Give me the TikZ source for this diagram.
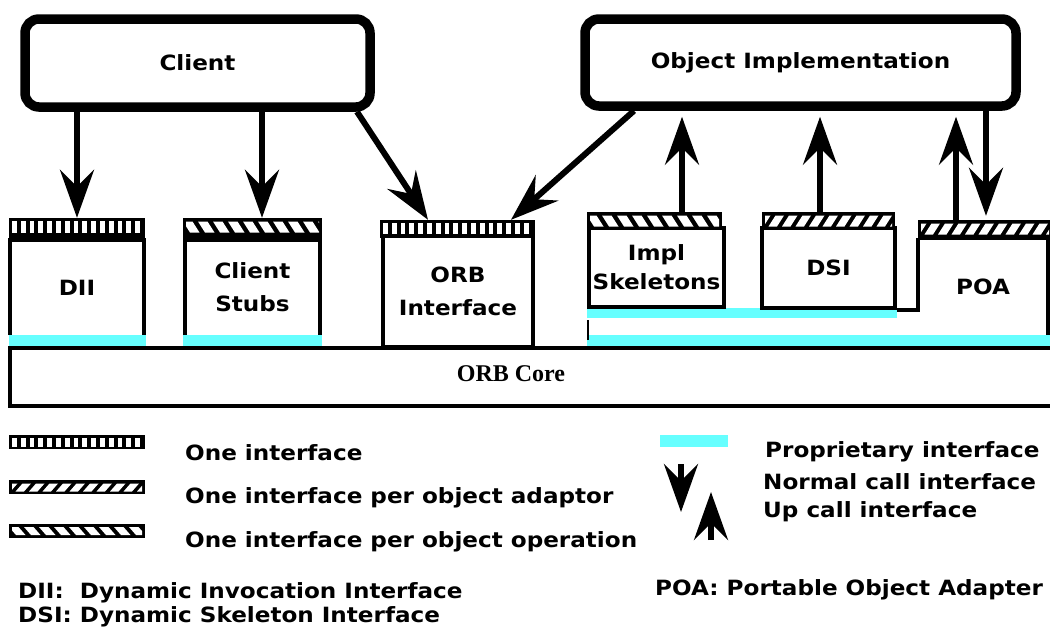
\documentclass[tikz,border=0pt]{standalone}
\usepackage{fontspec}
\setmainfont{Liberation Serif}
\newfontfamily\lab[FakeStretch=1.1]{DejaVu Sans}
\usetikzlibrary{arrows.meta,calc}
\definecolor{prop}{RGB}{102,255,255}
\def\slotH{10pt}
\newcommand\vpat[2]{%
  \clip ($(path picture bounding box.north west)+(3pt,-3.5pt)$) rectangle ($(path picture bounding box.north east)+(-3pt,-3.5pt-\slotH)$);
  \foreach \i in {0,...,20}{\fill[white] ($(path picture bounding box.north west)+(3pt+\i*#1pt,0pt)$) rectangle ++(#2pt,-40pt);}}
\newcommand\dpat[3]{%
  \clip ($(path picture bounding box.north west)+(3pt,-3.5pt)$) rectangle ($(path picture bounding box.north east)+(-3pt,-3.5pt-\slotH)$);
  \foreach \i in {-1,...,14}{\fill[white] ($(path picture bounding box.north west)+(\i*#1pt,-3.5pt)$) -- ++(#2pt,0pt) -- ++(#3pt,-\slotH) -- ++(-#2pt,0pt) -- cycle;}}
\tikzset{
  slot/.code={\def\slotH{#1}},
  lab/.style={font=\lab\bfseries\fontsize{21}{33}\selectfont},
  bigbox/.style={lab, draw, line width=9.5pt, rounded corners=14pt, inner sep=0pt},
  body/.style={lab, inner sep=0pt, align=center},
  bodyline/.style={line width=3.5pt},
  boxed/.style={body, draw, line width=3.5pt},
  vbar/.style={fill=black, inner sep=0pt, path picture={\vpat{8.8}{4.8}}},
  abar/.style={fill=black, inner sep=0pt, path picture={\dpat{13.5}{8.5}{-7}}},
  obar/.style={fill=black, inner sep=0pt, path picture={\dpat{15}{9.5}{7}}},
  callarr/.style={line width=6pt, -{Stealth[length=48pt,width=34pt,inset=17pt]}},
  legtext/.style={lab, anchor=west, inner sep=0pt},
  coretext/.style={font=\rmfamily\bfseries\fontsize{24}{28}\selectfont, inner sep=0pt}
}
\begin{document}
\begin{tikzpicture}[x=1pt,y=-1pt]
\useasboundingbox (0,0) rectangle (1050,643);

% proprietary interface strips
\fill[prop] (8.5,335) rectangle (145.5,347);
\fill[prop] (183,335) rectangle (322,347);
\fill[prop] (587,308) rectangle (897,318);
\fill[prop] (587,335) rectangle (1055,347);
\draw[line width=2pt] (588,320) -- (588,340);

% ORB core
\draw[line width=3.5pt] (10,348) rectangle (1070,406);
\node[coretext] (core) at (511,374) {ORB Core};

% components
\node[body, minimum width=134pt, minimum height=95pt] (dii) at (77,287.5) {DII};
\draw[bodyline] (dii.south west) -- (dii.north west) -- (dii.north east) -- (dii.south east);
\node[body, minimum width=135pt, minimum height=95pt] (stubs) at (252.5,287.5) {Client\\Stubs};
\draw[bodyline] (stubs.south west) -- (stubs.north west) -- (stubs.north east) -- (stubs.south east);
\node[boxed, minimum width=150pt, minimum height=111pt] (orbi) at (458,291.5) {ORB\\Interface};
\node[boxed, minimum width=135pt, minimum height=79pt, font=\lab\bfseries\fontsize{21}{29}\selectfont] (impl) at (656.5,267.5) {Impl\\Skeletons};
\node[boxed, minimum width=133pt, minimum height=80pt] (dsi) at (828.5,268) {DSI};
\node[body, minimum width=130pt, minimum height=97pt] (poa) at (983,286.5) {POA};
\draw[bodyline] (dsi.south east) -| (poa.north west);
\draw[bodyline] (poa.north east) -- (poa.south east);

% interface bars
\node[vbar, minimum width=136pt, minimum height=24pt, slot=11pt] (diibar) at (77,230) {};
\node[obar, minimum width=139pt, minimum height=24pt, slot=11pt] (stubbar) at (252.5,230) {};
\node[vbar, minimum width=155pt, minimum height=18pt, slot=10pt] (orbbar) at (457.5,229) {};
\node[obar, minimum width=135pt, minimum height=18pt, slot=11pt] (implbar) at (654.5,221) {};
\node[abar, minimum width=133pt, minimum height=18pt, slot=11pt] (dsibar) at (828.5,221) {};
\node[abar, minimum width=134pt, minimum height=20pt, slot=11pt] (poabar) at (985,230) {};

% top boxes
\node[bigbox, minimum width=345pt, minimum height=88pt] (client) at (197.5,63) {Client};
\node[bigbox, minimum width=431pt, minimum height=87pt] (obj) at (800.5,62.5) {Object Implementation};

% normal calls
\coordinate (t2) at ([xshift=9.5pt]stubbar.north);
\coordinate (t3) at ([xshift=-29.5pt]orbbar.north);
\coordinate (t4) at ([xshift=53.5pt]orbbar.north);
\coordinate (t5) at ([xshift=1pt]poabar.north);
\draw[callarr] (client.south -| diibar.north) -- (diibar.north);
\draw[callarr] (client.south -| t2) -- (t2);
\draw[callarr] ([xshift=159.5pt]client.south) -- (t3);
\draw[callarr] ([xshift=-166.5pt]obj.south) -- (t4);
\draw[callarr, shorten >=4pt] (obj.south -| t5) -- (t5);

% up calls
\coordinate (u1) at ([xshift=27.5pt]implbar.north);
\coordinate (u2) at ([xshift=-8.5pt]dsibar.north);
\coordinate (u3) at ([xshift=-29pt]poabar.north);
\draw[callarr, shorten >=6pt] (u1) -- (obj.south -| u1);
\draw[callarr, shorten >=6pt] (u2) -- (obj.south -| u2);
\draw[callarr, shorten >=6pt] (u3) -- (obj.south -| u3);

% legend left
\node[vbar, minimum width=136pt, minimum height=14pt, slot=8pt] (lg1) at (77,442) {};
\node[abar, minimum width=136pt, minimum height=14pt, slot=8pt] (lg2) at (77,487) {};
\node[obar, minimum width=136pt, minimum height=14pt, slot=8pt] (lg3) at (77,530.5) {};
\node[legtext] (lt1) at (185,453) {One interface};
\node[legtext] (lt2) at (185,498) {One interface per object adaptor};
\node[legtext] (lt3) at (185,542) {One interface per object operation};

% legend right
\fill[prop] (660,435) rectangle (728,447);
\coordinate (la1) at (681,464);
\coordinate (la2) at (681,512);
\coordinate (lb1) at (711,540);
\coordinate (lb2) at (711,492);
\draw[callarr] (la1) -- (la2);
\draw[callarr] (lb1) -- (lb2);
\node[legtext] (lr1) at (765,452) {Proprietary interface};
\node[legtext] (lr2) at (763,482) {Normal call interface};
\node[legtext] (lr3) at (763,512) {Up call interface};

% abbreviations
\node[legtext] (ab1) at (18,593) {DII:~ Dynamic Invocation Interface};
\node[legtext] (ab2) at (18,617) {DSI: Dynamic Skeleton Interface};
\node[legtext] (ab3) at (655,590) {POA: Portable Object Adapter};
\end{tikzpicture}
\end{document}
